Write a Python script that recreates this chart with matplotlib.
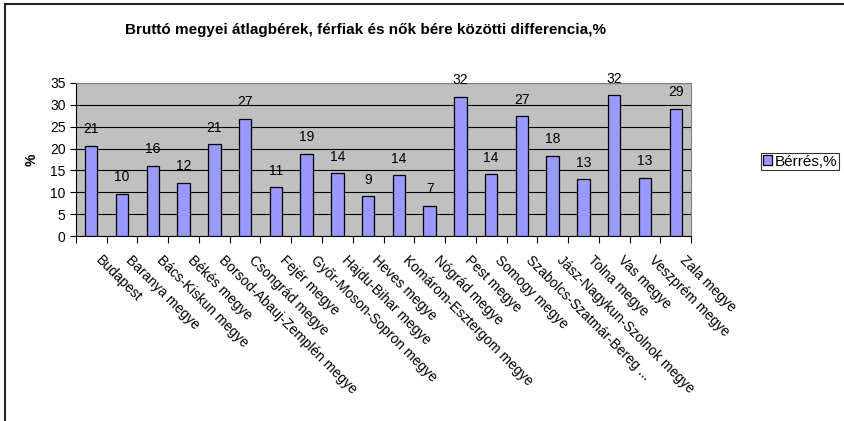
import numpy as np
import matplotlib
matplotlib.use("Agg")
import matplotlib.pyplot as plt
from matplotlib.patches import Rectangle
from matplotlib.transforms import ScaledTranslation

plt.rcParams['font.family'] = ['Liberation Sans', 'DejaVu Sans']

counties = ["Budapest", "Baranya megye", "Bács-Kiskun megye", "Békés megye",
            "Borsod-Abauj-Zemplén megye", "Csongrád megye", "Fejér megye",
            "Győr-Moson-Sopron megye", "Hajdu-Bihar megye", "Heves megye",
            "Komárom-Esztergom megye", "Nógrád megye", "Pest megye",
            "Somogy megye", "Szabolcs-Szatmár-Bereg ...", "Jász-Nagykun-Szolnok megye",
            "Tolna megye", "Vas megye", "Veszprém megye", "Zala megye"]
gap = [20.7, 9.7, 16.0, 12.2, 21.0, 26.8, 11.1, 18.8, 14.3, 9.1,
       13.9, 6.9, 31.8, 14.1, 27.4, 18.4, 13.0, 32.2, 13.3, 29.1]

fig = plt.figure(figsize=(8.45, 4.21), dpi=100)
ax = fig.add_axes([0.0899, 0.4394, 0.7279, 0.3635])
ax.set_facecolor('#C0C0C0')

x = np.arange(len(counties))
ax.bar(x, gap, width=0.4, color='#9999FF', edgecolor='black', linewidth=0.9,
       zorder=3, label='Bérrés,%')
for xi, v in zip(x, gap):
    ax.annotate(f"{round(v)}", (xi, v), xytext=(0, 12), textcoords='offset points',
                ha='center', va='center', fontsize=10)

ax.set_xlim(-0.5, len(counties) - 0.5)
ax.set_ylim(0, 35)
ax.set_yticks(np.arange(0, 36, 5))
ax.yaxis.grid(True, color='black', linewidth=0.8, zorder=0)
ax.tick_params(axis='y', labelsize=10, length=4, width=0.8, direction='out')

# category ticks between bars, labels at bar centers
ax.set_xticks(np.arange(-0.5, len(counties), 1.0))
ax.set_xticklabels([])
ax.set_xticks(x, minor=True)
ax.set_xticklabels(counties, minor=True, rotation=-45, ha='left', va='top',
                   rotation_mode='anchor', fontsize=10)
ax.tick_params(axis='x', which='major', length=5, width=0.8)
ax.tick_params(axis='x', which='minor', length=0, pad=12)
shift = ScaledTranslation(8 / 72, 0, fig.dpi_scale_trans)
for lab in ax.get_xticklabels(minor=True):
    lab.set_transform(lab.get_transform() + shift)

for s in ['top', 'right']:
    ax.spines[s].set_color('#808080')
    ax.spines[s].set_linewidth(0.8)
for s in ['left', 'bottom']:
    ax.spines[s].set_color('black')
    ax.spines[s].set_linewidth(0.8)

ax.set_ylabel('%', fontsize=10, fontweight='bold', labelpad=8)
fig.text(0.433, 0.929, 'Bruttó megyei átlagbérek, férfiak és nők bére közötti differencia,%',
         ha='center', va='center', fontsize=11, fontweight='bold')

leg = ax.legend(loc='upper left', bbox_to_anchor=(0.9006, 0.6366),
                bbox_transform=fig.transFigure, fontsize=11, frameon=True,
                fancybox=False, edgecolor='black', handlelength=0.6,
                handleheight=0.6, handletextpad=0.2, borderpad=0.1,
                borderaxespad=0)
leg.get_frame().set_linewidth(0.8)

# chart area border (cut off at right and bottom)
fig.patches.append(Rectangle((5 / 845, -0.1), 2.0, 1.0 - 4 / 421 + 0.1,
                             transform=fig.transFigure, fill=False,
                             edgecolor='#222222', linewidth=1.5))

fig.savefig('out.png', dpi=100)
